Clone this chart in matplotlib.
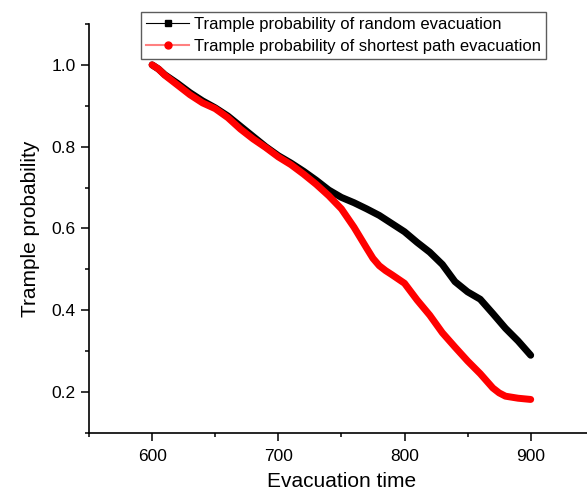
import matplotlib
matplotlib.use('Agg')

import matplotlib.pyplot as plt
from matplotlib.lines import Line2D
from matplotlib.ticker import MultipleLocator

plt.rcParams['font.family'] = ['Liberation Sans', 'DejaVu Sans']

# values
time = [600, 605, 610, 620, 630, 640, 650, 660, 670, 680, 690, 700, 710, 720,
        730, 740, 750, 760, 770, 775, 780, 785, 790, 800, 810, 820, 830, 840,
        850, 860, 870, 875, 880, 890, 900]
p_random = [1.000, 0.990, 0.976, 0.955, 0.932, 0.912, 0.895, 0.875, 0.850,
            0.825, 0.800, 0.778, 0.760, 0.740, 0.718, 0.694, 0.676, 0.663,
            0.648, 0.640, 0.632, 0.622, 0.612, 0.592, 0.566, 0.542, 0.512,
            0.470, 0.445, 0.427, 0.392, 0.374, 0.356, 0.325, 0.290]
p_shortest = [1.000, 0.990, 0.975, 0.951, 0.927, 0.907, 0.893, 0.871, 0.843,
              0.819, 0.798, 0.775, 0.756, 0.733, 0.708, 0.680, 0.648, 0.603,
              0.552, 0.527, 0.509, 0.497, 0.487, 0.466, 0.425, 0.388, 0.345,
              0.310, 0.276, 0.245, 0.210, 0.198, 0.190, 0.185, 0.182]

labels = ['Trample probability of random evacuation',
          'Trample probability of shortest path evacuation']

fig = plt.figure(figsize=(5.87, 4.94), dpi=100)
ax = fig.add_axes([0.1516, 0.1235, 0.86, 0.828])

ax.plot(time, p_random, color='black', lw=5,
        solid_capstyle='round', solid_joinstyle='round')
ax.plot(time, p_shortest, color='red', lw=5,
        solid_capstyle='round', solid_joinstyle='round')

ax.set_xlim(550, 950)
ax.set_ylim(0.1, 1.1)
ax.xaxis.set_minor_locator(MultipleLocator(50))
ax.yaxis.set_minor_locator(MultipleLocator(0.1))
ax.set_yticks([0.2, 0.4, 0.6, 0.8, 1.0])
ax.set_yticklabels(['0.2', '0.4', '0.6', '0.8', '1.0'])
ax.set_xticks([600, 700, 800, 900])

for s in ['top', 'right']:
    ax.spines[s].set_visible(False)
for s in ['left', 'bottom']:
    ax.spines[s].set_linewidth(1.2)

ax.tick_params(which='major', direction='out', length=5.5, width=1.1,
               labelsize=12.5)
ax.tick_params(axis='x', which='major', pad=6)
ax.tick_params(axis='y', which='major', pad=4)
ax.tick_params(which='minor', direction='out', length=3, width=1.1)

ax.set_xlabel('Evacuation time', fontsize=15, labelpad=6)
ax.set_ylabel('Trample probability', fontsize=15, labelpad=8)

h1 = Line2D([], [], color='black', lw=0.8, marker='s', markersize=4)
h2 = Line2D([], [], color='#ff8080', lw=1.5, marker='o', markersize=5,
            markerfacecolor='red', markeredgecolor='red')
leg = fig.legend([h1, h2], labels, loc='upper left',
                 bbox_to_anchor=(0.240, 0.9757), fontsize=12,
                 frameon=True, fancybox=False, borderpad=0.3,
                 handlelength=2.6, handletextpad=0.3, labelspacing=0.4,
                 borderaxespad=0)
leg.get_frame().set_edgecolor('#333333')
leg.get_frame().set_linewidth(1.0)

fig.savefig('out.png', dpi=100)
